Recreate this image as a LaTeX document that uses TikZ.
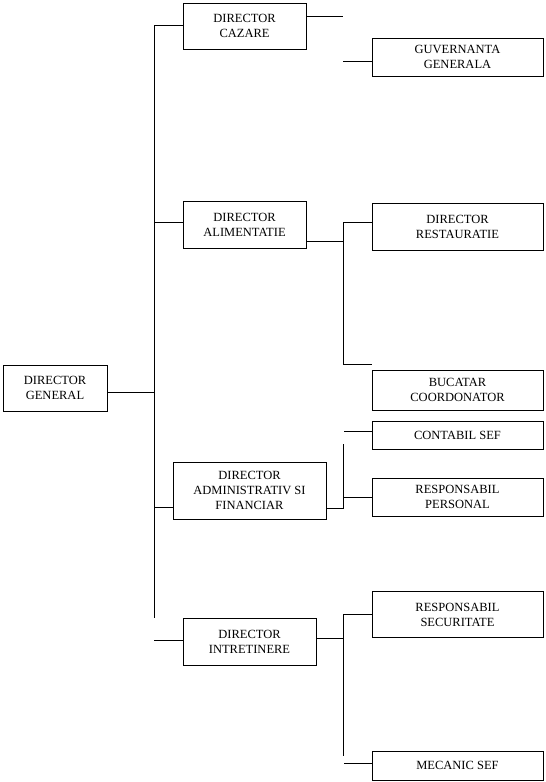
\documentclass[tikz,border=0pt]{standalone}
\usepackage{fontspec}
\setmainfont{Liberation Serif}
\usepackage{tikz}
\usetikzlibrary{positioning}

\begin{document}
\begin{tikzpicture}[x=1pt, y=-1pt, line width=1pt,
		box/.style={draw, align=center, inner sep=0pt,
			font=\fontsize{12.5}{15}\selectfont},
		link/.style={draw}]
	\useasboundingbox (0,0) rectangle (546,782);
	
	% boxes
	\node[box, minimum width=104, minimum height=46] (dg) at (55,388) {DIRECTOR\\GENERAL};
	\node[box, minimum width=123, minimum height=46] (cazare) at (244.5,26) {DIRECTOR\\CAZARE};
	\node[box, minimum width=171, minimum height=38] (guv) at (457.5,57) {GUVERNANTA\\GENERALA};
	\node[box, minimum width=123, minimum height=47] (alim) at (244.5,224.5) {DIRECTOR\\ALIMENTATIE};
	\node[box, minimum width=171, minimum height=47] (rest) at (457.5,226.5) {DIRECTOR\\RESTAURATIE};
	\node[box, minimum width=171, minimum height=40] (buc) at (457.5,390) {BUCATAR\\COORDONATOR};
	\node[box, minimum width=171, minimum height=28] (contabil) at (457.5,435) {CONTABIL SEF};
	\node[box, minimum width=153, minimum height=57] (admin) at (249.5,490.5) {DIRECTOR\\ADMINISTRATIV SI\\FINANCIAR};
	\node[box, minimum width=171, minimum height=38] (pers) at (457.5,497) {RESPONSABIL\\PERSONAL};
	\node[box, minimum width=133, minimum height=47] (intr) at (249.5,641.5) {DIRECTOR\\INTRETINERE};
	\node[box, minimum width=171, minimum height=46] (secur) at (457.5,614.5) {RESPONSABIL\\SECURITATE};
	\node[box, minimum width=171, minimum height=29] (mecanic) at (457.5,765.5) {MECANIC SEF};
	
	% trunk
	\coordinate (t1) at (154,25);
	\coordinate (t2) at (154,222);
	\coordinate (t0) at (154,392);
	\coordinate (t3) at (154,507);
	\coordinate (tend) at (154,618);
	\coordinate (t4) at (154,640);
	\draw (t1) -- (tend);
	\draw (dg.east |- t0) -- (t0);
	\draw (t1) -- (cazare.west |- t1);
	\draw (t2) -- (alim.west |- t2);
	\draw (t3) -- (admin.west |- t3);
	\draw (t4) -- (intr.west |- t4);
	
	% cazare
	\coordinate (c1) at (343,16);
	\coordinate (c2) at (343,61);
	\draw (cazare.east |- c1) -- (c1);
	\draw (c2) -- (guv.west |- c2);
	
	% alimentatie
	\coordinate (a0) at (343,241);
	\coordinate (a1) at (343,222);
	\coordinate (a2) at (343,364);
	\draw (alim.east |- a0) -- (a0);
	\draw (a1) -- (a2);
	\draw (a1) -- (rest.west |- a1);
	\draw (a2) -- (buc.west |- a2);
	
	% administrativ
	\coordinate (f0) at (343,508);
	\coordinate (f1) at (343,444);
	\coordinate (f2) at (343,497);
	\coordinate (f3) at (344,431);
	\draw (admin.east |- f0) -- (f0);
	\draw (f1) -- (343,509);
	\draw (f2) -- (pers.west |- f2);
	\draw (f3) -- (contabil.west |- f3);
	
	% intretinere
	\coordinate (i0) at (343,638);
	\coordinate (i1) at (343,614);
	\coordinate (i2) at (343,756);
	\coordinate (i3) at (344,763);
	\draw (intr.east |- i0) -- (i0);
	\draw (i1) -- (i2);
	\draw (i1) -- (secur.west |- i1);
	\draw (i3) -- (mecanic.west |- i3);
\end{tikzpicture}
\end{document}
